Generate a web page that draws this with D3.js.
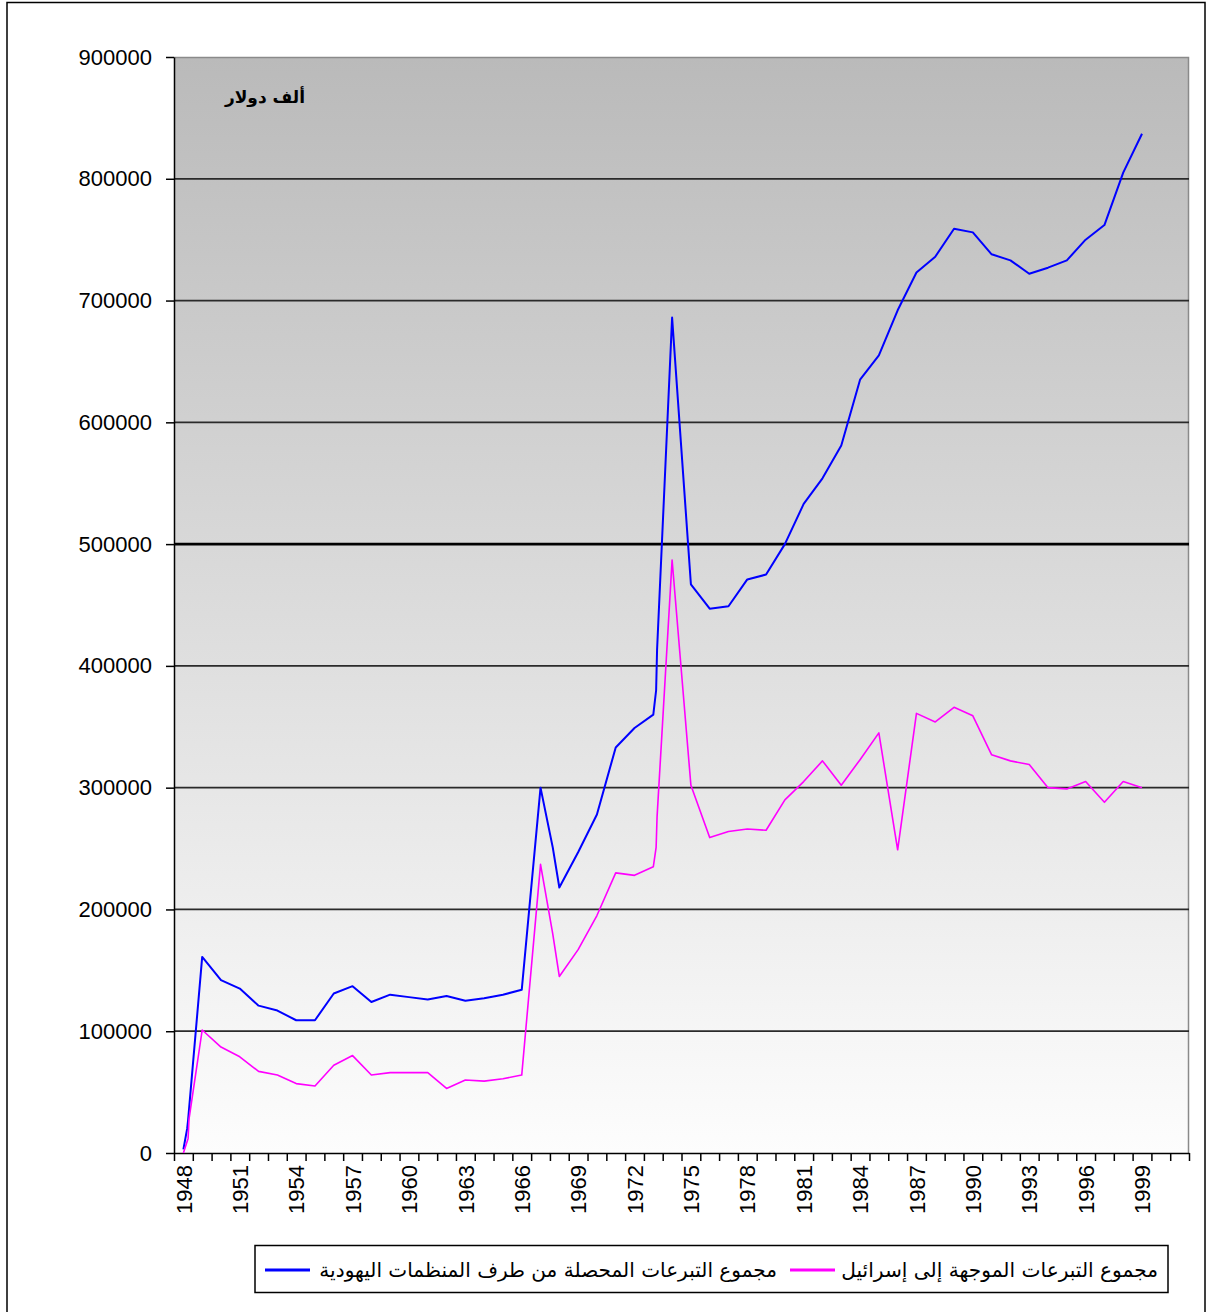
<!DOCTYPE html>
<html>
<head>
<meta charset="utf-8">
<script src="https://cdn.jsdelivr.net/npm/d3@7"></script>
<style>
  body { margin: 0; background: #fff; }
  svg { display: block; }
  .axis text { font-family: "Liberation Sans", Arial, sans-serif; font-size: 22px; fill: #000; }
  .axis path, .axis line { stroke: #000; stroke-width: 1.5; }
</style>
</head>
<body>
<svg width="1209" height="1312"></svg>
<script>
// category positions (years, some points sit between years) and values in thousand dollars
const collectedYears = [1948, 1948.2, 1948.25, 1949, 1950, 1951, 1952, 1953, 1954, 1955, 1956, 1957, 1958, 1959,
  1960, 1961, 1962, 1963, 1964, 1965, 1966, 1967, 1967.65, 1968, 1969, 1970, 1971, 1972, 1973, 1973.15, 1973.2,
  1974, 1975, 1976, 1977, 1978, 1979, 1980, 1981, 1982, 1983, 1984, 1985, 1986, 1987, 1988, 1989, 1990, 1991,
  1992, 1993, 1994, 1995, 1996, 1997, 1998, 1999];
const collectedValues = [3000, 20000, 27000, 161000, 142000, 135000, 121000, 117000, 109000, 109000, 131000, 137000, 124000, 130000,
  128000, 126000, 129000, 125000, 127000, 130000, 134000, 300000, 251000, 218000, 247000, 278000, 333000, 349000, 360000, 380000, 413000,
  686000, 467000, 447000, 449000, 471000, 475000, 500000, 533000, 554000, 581000, 635000, 655000, 692000, 723000, 736000, 759000, 756000, 738000,
  733000, 722000, 727000, 733000, 750000, 762000, 805000, 837000];

const israelYears = [1948, 1948.25, 1948.3, 1949, 1950, 1951, 1952, 1953, 1954, 1955, 1956, 1957, 1958, 1959,
  1960, 1961, 1962, 1963, 1964, 1965, 1966, 1967, 1967.65, 1968, 1969, 1970, 1971, 1972, 1973, 1973.15, 1973.2,
  1974, 1975, 1976, 1977, 1978, 1979, 1980, 1981, 1982, 1983, 1984, 1985, 1986, 1987, 1988, 1989, 1990, 1991,
  1992, 1993, 1994, 1995, 1996, 1997, 1998, 1999];
const israelValues = [0, 12000, 28000, 101000, 87000, 79000, 67000, 64000, 57000, 55000, 72000, 80000, 64000, 66000,
  66000, 66000, 53000, 60000, 59000, 61000, 64000, 237000, 180000, 145000, 167000, 195000, 230000, 228000, 235000, 251000, 276000,
  487000, 302000, 259000, 264000, 266000, 265000, 290000, 305000, 322000, 302000, 323000, 345000, 249000, 361000, 354000, 366000, 359000, 327000,
  322000, 319000, 300000, 299000, 305000, 288000, 305000, 300000];

const yTicks = [0, 100000, 200000, 300000, 400000, 500000, 600000, 700000, 800000, 900000];
const yearLabels = [1948, 1951, 1954, 1957, 1960, 1963, 1966, 1969, 1972, 1975, 1978, 1981, 1984, 1987, 1990, 1993, 1996, 1999];
const firstYear = 1948, lastYear = 2001;

const unitLabel = "ألف دولار";
const seriesNames = ["مجموع التبرعات المحصلة من طرف المنظمات اليهودية", "مجموع التبرعات الموجهة إلى إسرائيل"];
const seriesColors = ["#0000ff", "#ff00ff"];

let margin = {top: 57, left: 174};
let width = 1015, height = 1096;

let svg = d3.select("svg");

// outer chart frame
svg.append("rect")
    .attr("x", 7).attr("y", 2.5)
    .attr("width", 1198).attr("height", 1330)
    .attr("fill", "none").attr("stroke", "#000").attr("stroke-width", 1.5);

let defs = svg.append("defs");
let grad = defs.append("linearGradient")
    .attr("id", "bg").attr("x1", 0).attr("y1", 0).attr("x2", 0).attr("y2", 1);
grad.append("stop").attr("offset", "0%").attr("stop-color", "#bababa");
grad.append("stop").attr("offset", "100%").attr("stop-color", "#fdfdfd");

let g = svg.append("g")
    .attr("transform", "translate(" + margin.left + "," + margin.top + ")");

let x = d3.scaleLinear().domain([firstYear - 0.5, lastYear + 0.5]).range([0, width]);
let y = d3.scaleLinear().domain([0, 900000]).range([height, 0]);

g.append("rect")
    .attr("width", width).attr("height", height)
    .attr("fill", "url(#bg)");

// plot border (top / right)
g.append("path")
    .attr("d", "M0,0.5H" + (width - 0.5) + "V" + height)
    .attr("fill", "none").attr("stroke", "#8a8a8a").attr("stroke-width", 1.5);

// gridlines
g.selectAll(".grid")
    .data(yTicks.filter(v => v > 0 && v < 900000))
  .enter().append("line")
    .attr("class", "grid")
    .attr("x1", 0).attr("x2", width)
    .attr("y1", d => y(d)).attr("y2", d => y(d))
    .attr("stroke", d => d === 500000 ? "#000" : "#2a2a2a")
    .attr("stroke-width", d => d === 500000 ? 2.6 : 1.7);

// y axis
g.append("g")
    .attr("class", "axis")
    .call(d3.axisLeft(y).tickValues(yTicks).tickFormat(d3.format("d")).tickSize(8).tickSizeOuter(0).tickPadding(14));

// x axis: tick marks between categories
let boundaries = d3.range(firstYear - 0.5, lastYear + 1, 1);
g.append("g")
    .attr("class", "axis")
    .attr("transform", "translate(0," + height + ")")
    .call(d3.axisBottom(x).tickValues(boundaries).tickFormat("").tickSize(8).tickSizeOuter(0));

// x axis labels centered on categories
let xl = g.append("g")
    .attr("class", "axis")
    .attr("transform", "translate(0," + height + ")")
    .call(d3.axisBottom(x).tickValues(yearLabels).tickFormat(d3.format("d")).tickSize(0));
xl.select(".domain").remove();
xl.selectAll("text")
    .attr("transform", "rotate(-90)")
    .attr("x", -12).attr("y", 0).attr("dy", ".35em")
    .style("text-anchor", "end");

// series
let line = d3.line().x(d => x(d[0])).y(d => y(d[1]));
let series = [
  d3.zip(collectedYears, collectedValues),
  d3.zip(israelYears, israelValues)
];
g.selectAll(".series")
    .data(series)
  .enter().append("path")
    .attr("class", "series")
    .attr("d", line)
    .attr("fill", "none")
    .attr("stroke", (d, i) => seriesColors[i])
    .attr("stroke-width", (d, i) => i === 0 ? 2 : 1.6)
    .attr("stroke-linejoin", "round");

// unit label
g.append("text")
    .attr("x", 131).attr("y", 46)
    .attr("text-anchor", "end")
    .style("font-family", "'DejaVu Sans', sans-serif")
    .style("font-weight", "bold")
    .style("font-size", "17px")
    .text(unitLabel);

// legend
let legend = svg.append("g");
legend.append("rect")
    .attr("x", 255).attr("y", 1245.5)
    .attr("width", 913).attr("height", 47)
    .attr("fill", "#fff").attr("stroke", "#000").attr("stroke-width", 1.5);

let items = [
  {x1: 265, x2: 310, textRight: 777, textWidth: 458},
  {x1: 790, x2: 835, textRight: 1158, textWidth: 317}
];
items.forEach((it, i) => {
  legend.append("line")
      .attr("x1", it.x1).attr("x2", it.x2)
      .attr("y1", 1270).attr("y2", 1270)
      .attr("stroke", seriesColors[i]).attr("stroke-width", 3);
  let t = legend.append("text")
      .attr("x", it.textRight).attr("y", 1277)
      .attr("text-anchor", "end")
      .style("font-family", "'DejaVu Sans', sans-serif")
      .style("font-size", "20px")
      .text(seriesNames[i]);
  let w = t.node().getComputedTextLength();
  let fs = Math.min(22, 20 * it.textWidth / w);
  t.style("font-size", fs + "px");
});
</script>
</body>
</html>
